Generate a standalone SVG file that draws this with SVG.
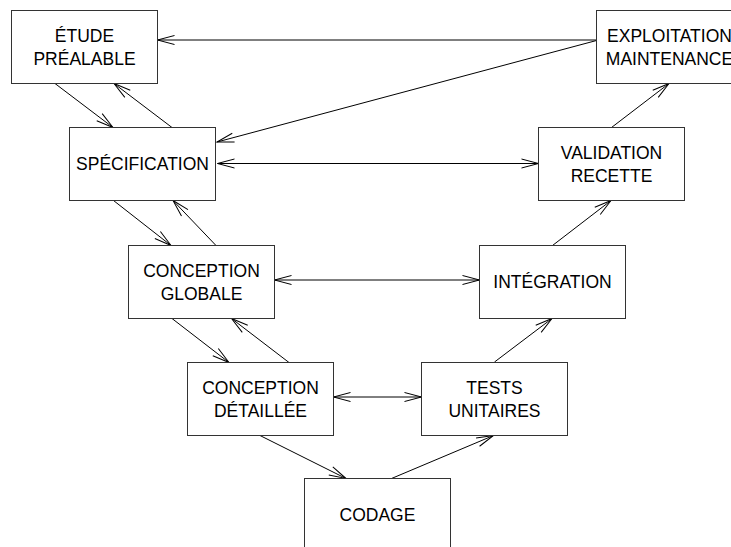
<svg xmlns="http://www.w3.org/2000/svg" width="731" height="547" viewBox="0 0 731 547">
<style>
.box{fill:#fff;stroke:#333;stroke-width:1}
.lbl{font-family:"Liberation Sans",Arial,sans-serif;font-size:17.5px;fill:#000;text-anchor:middle}
.c{fill:none;stroke:#000;stroke-width:1}
</style>
<defs>
<marker id="a" markerUnits="userSpaceOnUse" viewBox="0 0 20 12" markerWidth="20" markerHeight="12" refX="17" refY="6" orient="auto-start-reverse" overflow="visible">
<path d="M0,1.5 L17,6 L0,10.5" fill="none" stroke="#000" stroke-width="1"/>
</marker>
</defs>
<rect width="731" height="547" fill="#fff"/>
<g id="connectors">
<path class="c" d="M55,83.5 L113,127.5" marker-end="url(#a)"/>
<path class="c" d="M172,127.5 L114,83.5" marker-end="url(#a)"/>
<path class="c" d="M596.5,40 L157.5,40" marker-end="url(#a)"/>
<path class="c" d="M596.5,40.5 L217,142" marker-end="url(#a)"/>
<path class="c" d="M217.5,163.5 L538.5,163.5" marker-start="url(#a)" marker-end="url(#a)"/>
<path class="c" d="M611.5,127.5 L669,83.5" marker-end="url(#a)"/>
<path class="c" d="M113.5,200.5 L171,245.5" marker-end="url(#a)"/>
<path class="c" d="M216,245.5 L173,200.5" marker-end="url(#a)"/>
<path class="c" d="M274.5,280 L479.5,280" marker-start="url(#a)" marker-end="url(#a)"/>
<path class="c" d="M552.5,245.5 L611,200.5" marker-end="url(#a)"/>
<path class="c" d="M172,318.5 L229,362.5" marker-end="url(#a)"/>
<path class="c" d="M289,362.5 L231.5,318.5" marker-end="url(#a)"/>
<path class="c" d="M333.5,397 L421.5,397" marker-start="url(#a)" marker-end="url(#a)"/>
<path class="c" d="M494.5,362 L552,318.5" marker-end="url(#a)"/>
<path class="c" d="M260,435.5 L346,478.5" marker-end="url(#a)"/>
<path class="c" d="M391.5,478.5 L493.5,435.5" marker-end="url(#a)"/>
</g>
<g id="etude"><rect class="box" x="11.5" y="10.5" width="146" height="73"/><text class="lbl" x="84.5" y="41.5">ÉTUDE</text><text class="lbl" x="84.5" y="64.5">PRÉALABLE</text></g>
<g id="specification"><rect class="box" x="69.5" y="127.5" width="146" height="73"/><text class="lbl" x="142.5" y="170">SPÉCIFICATION</text></g>
<g id="exploitation"><rect class="box" x="596.5" y="10.5" width="146" height="73"/><text class="lbl" x="669.5" y="41.5">EXPLOITATION</text><text class="lbl" x="669.5" y="64.5">MAINTENANCE</text></g>
<g id="validation"><rect class="box" x="538.5" y="127.5" width="146" height="73"/><text class="lbl" x="611.5" y="158.5">VALIDATION</text><text class="lbl" x="611.5" y="181.5">RECETTE</text></g>
<g id="conception-globale"><rect class="box" x="128.5" y="245.5" width="146" height="73"/><text class="lbl" x="201.5" y="276.5">CONCEPTION</text><text class="lbl" x="201.5" y="299.5">GLOBALE</text></g>
<g id="integration"><rect class="box" x="479.5" y="245.5" width="146" height="73"/><text class="lbl" x="552.5" y="288">INTÉGRATION</text></g>
<g id="conception-detaillee"><rect class="box" x="187.5" y="362.5" width="146" height="73"/><text class="lbl" x="260.5" y="393.5">CONCEPTION</text><text class="lbl" x="260.5" y="416.5">DÉTAILLÉE</text></g>
<g id="tests-unitaires"><rect class="box" x="421.5" y="362.5" width="146" height="73"/><text class="lbl" x="494.5" y="393.5">TESTS</text><text class="lbl" x="494.5" y="416.5">UNITAIRES</text></g>
<g id="codage"><rect class="box" x="304.5" y="478.5" width="146" height="73"/><text class="lbl" x="377.5" y="521">CODAGE</text></g>
</svg>
